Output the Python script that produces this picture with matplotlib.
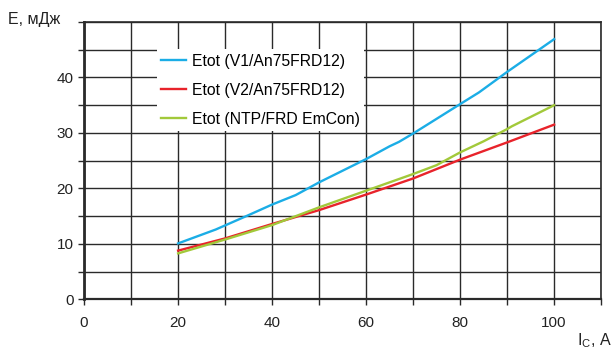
import matplotlib.pyplot as plt
from matplotlib.ticker import MultipleLocator

plt.rcParams['font.family'] = ['Liberation Sans', 'DejaVu Sans']

# Etot (V1/An75FRD12)
v1_x = [20, 28, 35, 40, 45, 50, 60, 65, 67, 70, 80, 84, 90, 100]
v1_y = [10.1, 12.6, 15.2, 17.1, 18.8, 21.1, 25.3, 27.6, 28.4, 29.9, 35.2, 37.3, 41.0, 46.9]

# Etot (V2/An75FRD12)
v2_x = [20, 30, 40, 50, 60, 70, 80, 90, 100]
v2_y = [8.8, 11.0, 13.6, 16.1, 18.9, 21.8, 25.2, 28.3, 31.5]

# Etot (NTP/FRD EmCon)
ntp_x = [20, 30, 40, 50, 60, 70, 75, 80, 85, 90, 91, 100]
ntp_y = [8.3, 10.8, 13.4, 16.6, 19.6, 22.6, 24.2, 26.5, 28.5, 30.7, 31.2, 35.0]

labels = ['Etot (V1/An75FRD12)', 'Etot (V2/An75FRD12)', 'Etot (NTP/FRD EmCon)']
colors = ['#1badE6', '#e8232b', '#a2c93a']

fig = plt.figure(figsize=(6.14, 3.49), dpi=100)
ax = fig.add_axes([0.137, 0.142, 0.842, 0.795])

ax.plot(v1_x, v1_y, color=colors[0], lw=1.7, label=labels[0], zorder=3)
ax.plot(v2_x, v2_y, color=colors[1], lw=1.7, label=labels[1], zorder=3)
ax.plot(ntp_x, ntp_y, color=colors[2], lw=1.7, label=labels[2], zorder=3)

ax.set_xlim(0, 110)
ax.set_ylim(0, 50)
ax.xaxis.set_minor_locator(MultipleLocator(10))
ax.yaxis.set_minor_locator(MultipleLocator(5))
ax.set_xticks([0, 20, 40, 60, 80, 100])
ax.set_yticks([0, 10, 20, 30, 40])
ax.grid(which='both', color='#2a2a2a', lw=1.0)
ax.set_axisbelow(True)
ax.tick_params(which='both', length=4, width=1.0, color='#2a2a2a', labelsize=11, colors='#222222')
ax.tick_params(axis='x', pad=8)
for s in ax.spines.values():
    s.set_color('#2a2a2a')
    s.set_linewidth(1.2)
ax.spines['left'].set_linewidth(2.0)
ax.spines['bottom'].set_linewidth(1.6)

leg = ax.legend(loc='upper left', bbox_to_anchor=(0.125, 0.93), fontsize=11.3,
                frameon=True, framealpha=1, edgecolor='none', fancybox=False,
                handlelength=1.6, handletextpad=0.35, labelspacing=0.88,
                borderpad=0.3)
leg.get_frame().set_facecolor('white')

fig.text(0.013, 0.93, 'E, мДж', fontsize=11.5, color='#222222')
fig.text(0.94, 0.012, r'I$_\mathregular{C}$, A', fontsize=11.5, color='#222222')

fig.savefig('out.png', dpi=100)
